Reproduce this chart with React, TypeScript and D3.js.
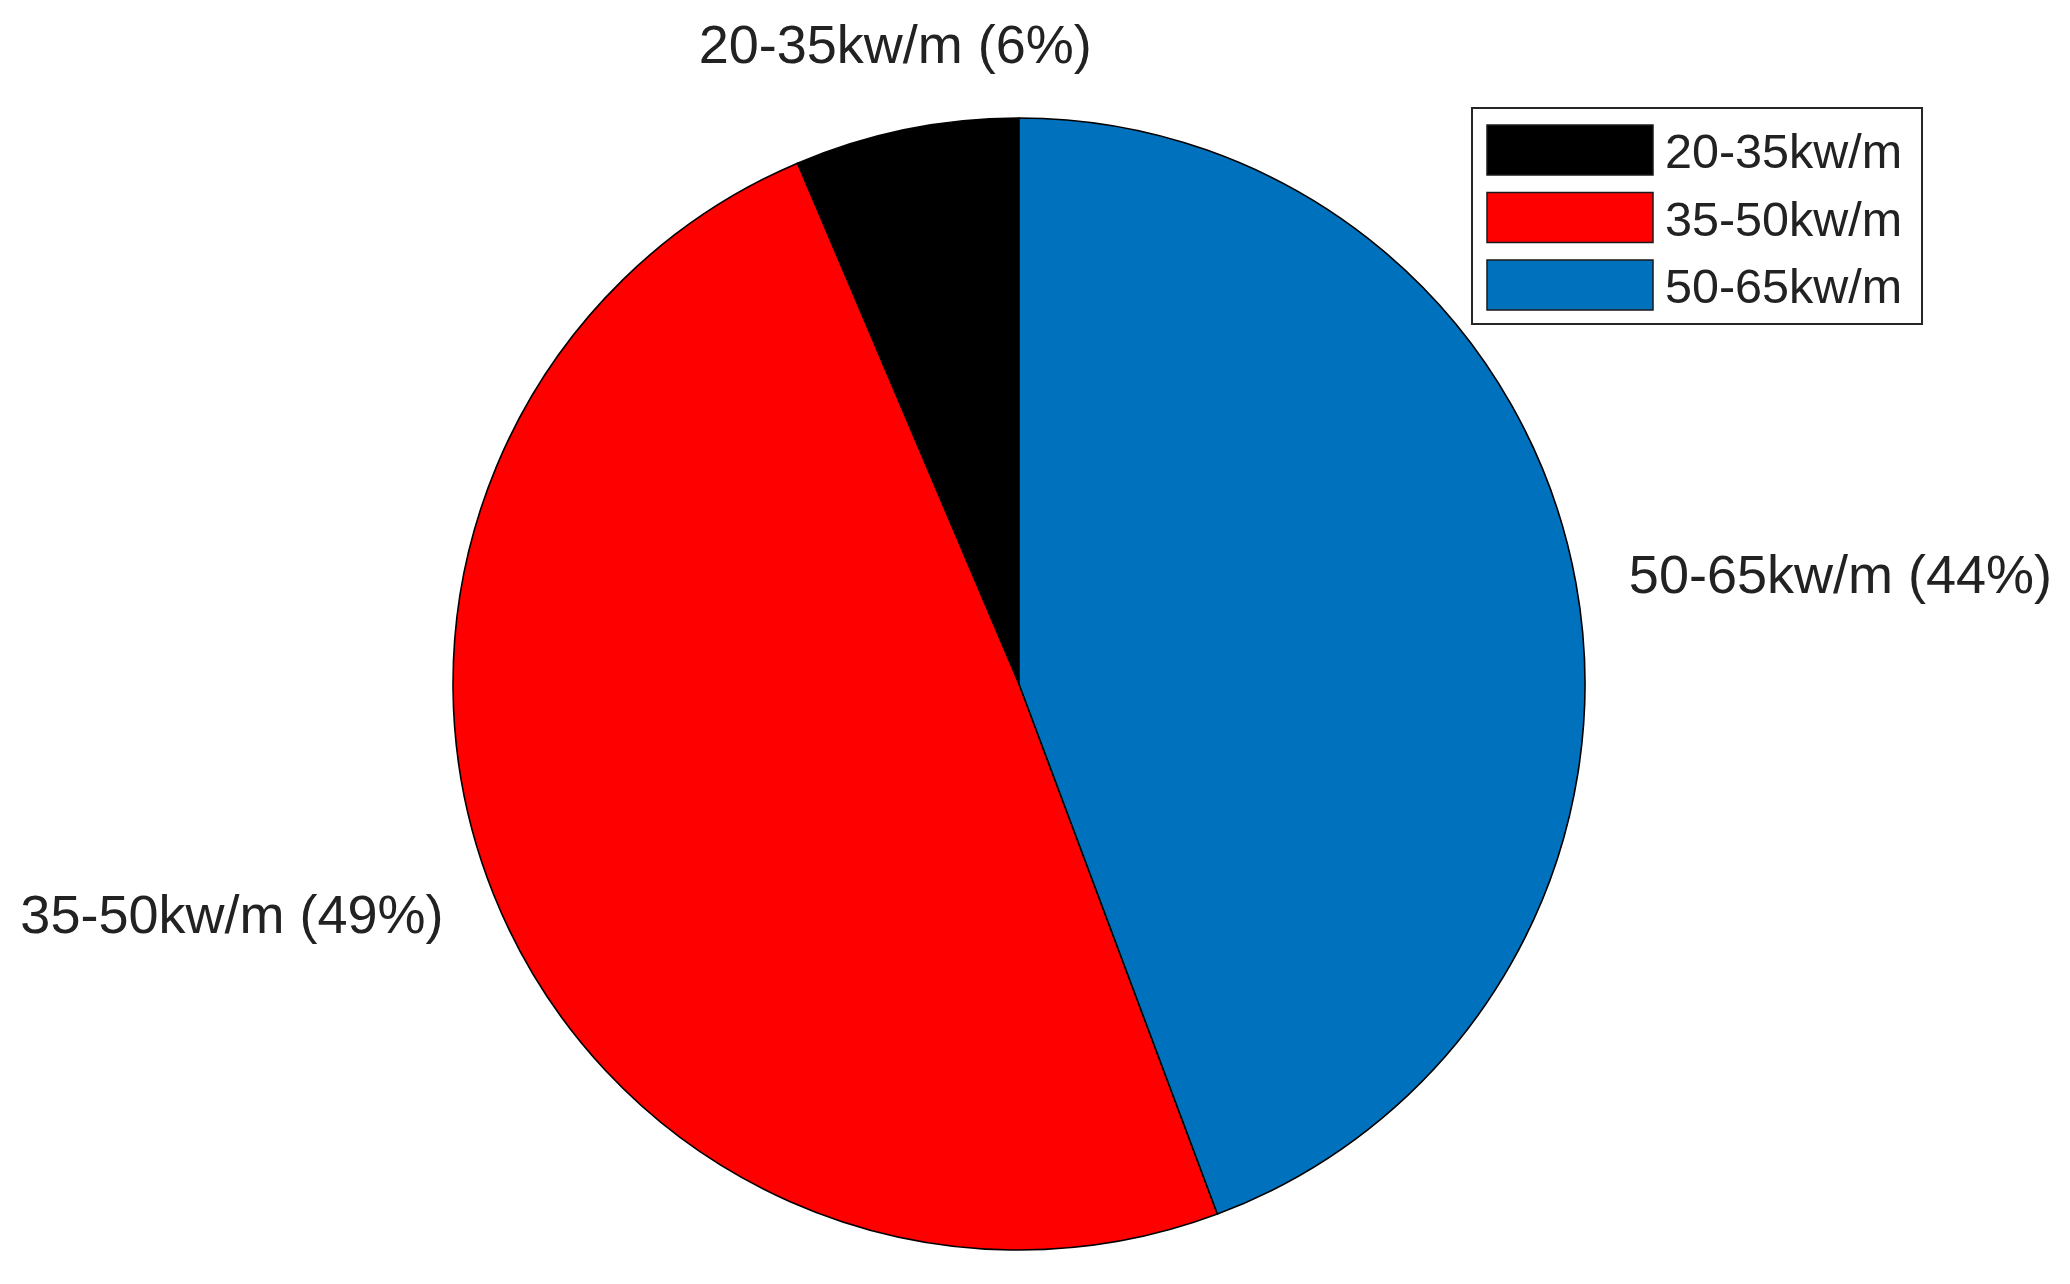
import * as d3 from "d3";
import { useEffect, useRef } from "react";

const categories = ["20-35kw/m", "35-50kw/m", "50-65kw/m"];
const shares = [6.4, 49.3, 44.3];
const percentLabels = ["6%", "49%", "44%"];
const colors = ["#000000", "#FF0000", "#0072BD"];

export default function App() {
  const ref = useRef<SVGSVGElement | null>(null);

  useEffect(() => {
    if (!ref.current) return;
    const width = 2070;
    const height = 1284;
    const cx = 1019;
    const cy = 684;
    const r = 566;
    const font = "'Liberation Sans', Arial, Helvetica, sans-serif";

    const svg = d3.select(ref.current);
    svg.selectAll("*").remove();
    svg.attr("width", width).attr("height", height);
    svg.append("rect").attr("width", width).attr("height", height).attr("fill", "#fff");

    const data = categories.map((c, i) => ({ name: c, value: shares[i], pct: percentLabels[i], color: colors[i] }));

    // MATLAB-style pie: starts at the top and runs counter-clockwise
    const pie = d3
      .pie<(typeof data)[0]>()
      .sort(null)
      .value((d) => d.value)
      .startAngle(0)
      .endAngle(-2 * Math.PI);

    const arcs = pie(data);
    const arc = d3.arc<d3.PieArcDatum<(typeof data)[0]>>().innerRadius(0).outerRadius(r);

    const g = svg.append("g").attr("transform", `translate(${cx},${cy})`);

    g.selectAll("path.slice")
      .data(arcs)
      .join("path")
      .attr("class", "slice")
      .attr("d", arc)
      .attr("fill", (d) => d.data.color)
      .attr("stroke", "#000")
      .attr("stroke-width", 1.6)
      .attr("stroke-linejoin", "round");

    const labelR = r * 1.095;
    g.selectAll("text.lbl")
      .data(arcs)
      .join("text")
      .attr("class", "lbl")
      .attr("x", (d) => labelR * Math.sin((d.startAngle + d.endAngle) / 2))
      .attr("y", (d) => -labelR * Math.cos((d.startAngle + d.endAngle) / 2))
      .attr("text-anchor", (d) => {
        const s = Math.sin((d.startAngle + d.endAngle) / 2);
        return Math.abs(s) < 0.4 ? "middle" : s > 0 ? "start" : "end";
      })
      .attr("dy", (d) => {
        const c = Math.cos((d.startAngle + d.endAngle) / 2);
        return c > 0.9 ? "-0.25em" : "0.36em";
      })
      .attr("font-family", font)
      .attr("font-size", 54)
      .attr("fill", "#222")
      .text((d) => `${d.data.name} (${d.data.pct})`);

    // legend
    const lx = 1472;
    const ly = 108;
    const lw = 450;
    const lh = 216;
    const legend = svg.append("g");
    legend
      .append("rect")
      .attr("x", lx)
      .attr("y", ly)
      .attr("width", lw)
      .attr("height", lh)
      .attr("fill", "#fff")
      .attr("stroke", "#262626")
      .attr("stroke-width", 2);

    const rowY = d3.scalePoint<string>().domain(categories).range([150, 285]);
    legend
      .selectAll("rect.sw")
      .data(data)
      .join("rect")
      .attr("class", "sw")
      .attr("x", 1487)
      .attr("y", (d) => (rowY(d.name) ?? 0) - 25)
      .attr("width", 166)
      .attr("height", 50)
      .attr("fill", (d) => d.color)
      .attr("stroke", "#1a1a1a")
      .attr("stroke-width", 1.5);

    legend
      .selectAll("text.lt")
      .data(data)
      .join("text")
      .attr("class", "lt")
      .attr("x", 1665)
      .attr("y", (d) => (rowY(d.name) ?? 0) + 18)
      .attr("font-family", font)
      .attr("font-size", 48.5)
      .attr("fill", "#222")
      .text((d) => d.name);
  }, []);

  return (
    <svg
      ref={ref}
      style={{ position: "absolute", left: 0, top: 0, display: "block" }}
      role="img"
      aria-label="Pie chart of wave power share"
    />
  );
}
